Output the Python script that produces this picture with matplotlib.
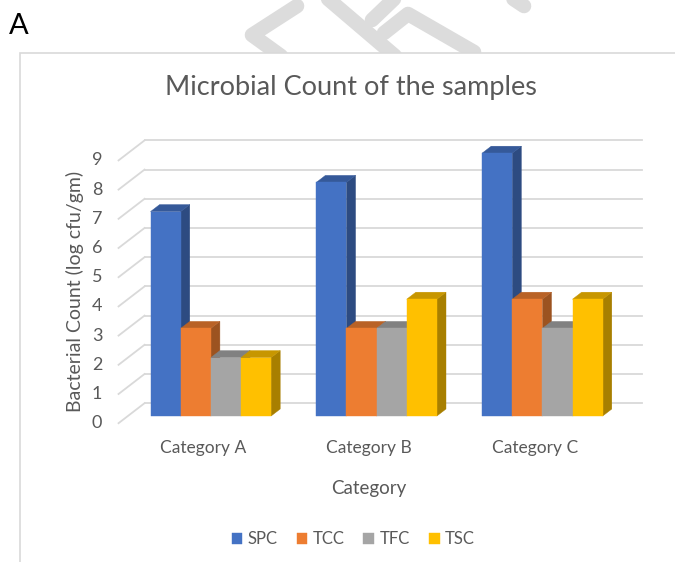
import matplotlib.pyplot as plt
import numpy as np
from matplotlib.colors import to_rgb
from matplotlib.lines import Line2D
from matplotlib.patches import Polygon, Rectangle

# data
categories = ["Category A", "Category B", "Category C"]
series = ["SPC", "TCC", "TFC", "TSC"]
spc = [7, 8, 9]
tcc = [3, 3, 4]
tfc = [2, 3, 3]
tsc = [2, 4, 4]
y_ticks = list(range(10))

colors = ["#4472C4", "#ED7D31", "#A5A5A5", "#FFC000"]
TEXT = "#595959"
GRID = "#D9D9D9"

# layout (pixels of the 675x562 picture)
W, H = 675, 562
PX_CAT = 165.8      # pixels per category
PX_VAL = 29.2       # pixels per value unit
CAT0_PX = 210.8     # x of first category centre
BASE_PY = 416.0     # y (from top) of the bar bases
DEPTH_PX = (26.0, 20.0)   # full box depth: right, up
BAR_D0, BAR_D1 = 0.36, 0.71  # bar depth span (0 = front plane, 1 = back wall)

plt.rcParams["font.family"] = ["Lato", "DejaVu Sans"]


def depth_off(d):
    """Offset (data units) of depth d relative to the bar front faces."""
    k = d - BAR_D0
    return k * DEPTH_PX[0] / PX_CAT, k * DEPTH_PX[1] / PX_VAL


def px2data(px, py):
    return (px - CAT0_PX) / PX_CAT, (BASE_PY - py) / PX_VAL


def shade(c, f):
    return tuple(np.array(to_rgb(c)) * f)


fig = plt.figure(figsize=(W / 100, H / 100), dpi=100)

# watermark strokes peeking above the chart frame
for xs, ys in [
    ([297, 252, 281], [6, 35, 56]),
    ([327, 395], [-2, 56]),
    ([372, 395], [20, -2]),
    ([384, 408, 474], [33, 14, 52]),
    ([512, 524], [-2, 6]),
]:
    fig.add_artist(Line2D(np.array(xs) / W, 1 - np.array(ys) / H,
                          transform=fig.transFigure, lw=10.5, color="#DCDCDC",
                          solid_capstyle="round", solid_joinstyle="round", zorder=-3))

# chart area frame (cut off at right/bottom)
fig.add_artist(Rectangle((20 / W, -0.1), 1.2, 1 - 53 / H + 0.1, transform=fig.transFigure,
                         facecolor="white", edgecolor=GRID, lw=1.2, zorder=-1))

ax = fig.add_axes([0, 0, 1, 1])
ax.set_xlim(px2data(0, 0)[0], px2data(W, 0)[0])
ax.set_ylim(px2data(0, H)[1], px2data(0, 0)[1])
ax.axis("off")

x = np.arange(len(categories))
x_lo, x_hi = -0.5, len(categories) - 0.5

# back wall gridlines and left wall diagonals
fdx, fdy = depth_off(0.0)
bdx, bdy = depth_off(1.0)
for v in y_ticks:
    ax.plot([x_lo + bdx, x_hi + bdx], [v + bdy, v + bdy], color=GRID, lw=1.3, zorder=1)
    ax.plot([x_lo + fdx, x_lo + bdx], [v + fdy, v + bdy], color=GRID, lw=1.3, zorder=1)
    ax.text(*(np.array([x_lo + fdx, v + fdy]) + [-21.5 / PX_CAT, 0]), str(v),
            ha="center", va="center", fontsize=13, color=TEXT)

# 3D-looking bars
bar_w = 1 / 5.5
ddx, ddy = depth_off(BAR_D1)
handles = []
for s, (name, vals, col) in enumerate(zip(series, [spc, tcc, tfc, tsc], colors)):
    xs = x + (s - 1.5) * bar_w
    z = 2 + s * 0.1
    for xc, h in zip(xs, vals):
        l, r = xc - bar_w / 2, xc + bar_w / 2
        ax.add_patch(Polygon([(r, 0), (r + ddx, ddy), (r + ddx, h + ddy), (r, h)],
                             closed=True, facecolor=shade(col, 0.66),
                             edgecolor=shade(col, 0.66), lw=0.3, zorder=z))
        ax.add_patch(Polygon([(l, h), (r, h), (r + ddx, h + ddy), (l + ddx, h + ddy)],
                             closed=True, facecolor=shade(col, 0.78),
                             edgecolor=shade(col, 0.78), lw=0.3, zorder=z))
    bars = ax.bar(xs, vals, width=bar_w, color=col, edgecolor=col, lw=0.3,
                  label=name, zorder=z + 0.05)
    handles.append(bars)

# category labels
cat_y = px2data(0, 448.3)[1]
for xc, lab in zip(x, categories):
    ax.text(xc + fdx + 1.9 / PX_CAT, cat_y, lab, ha="center", va="center",
            fontsize=12.5, color=TEXT)

fig.text(368.3 / W, 1 - 488.3 / H, "Category", ha="center", va="center",
         fontsize=13.5, color=TEXT)
fig.text(75 / W, 1 - 291 / H, "Bacterial Count (log cfu/gm)", ha="center", va="center",
         rotation=90, fontsize=14, color=TEXT)
fig.text(351 / W, 1 - 88 / H, "Microbial Count of the samples", ha="center", va="center",
         fontsize=19.5, color=TEXT)
fig.text(18.5 / W, 1 - 26 / H, "A", ha="center", va="center", fontsize=21, color="black")

fig.legend(handles, series, loc="center", bbox_to_anchor=(353 / W, 1 - 539 / H), ncol=4,
           frameon=False, fontsize=12, handlelength=0.65, handleheight=0.65,
           handletextpad=0.3, columnspacing=1.15, labelcolor=TEXT)

fig.savefig("out.png", dpi=100)
